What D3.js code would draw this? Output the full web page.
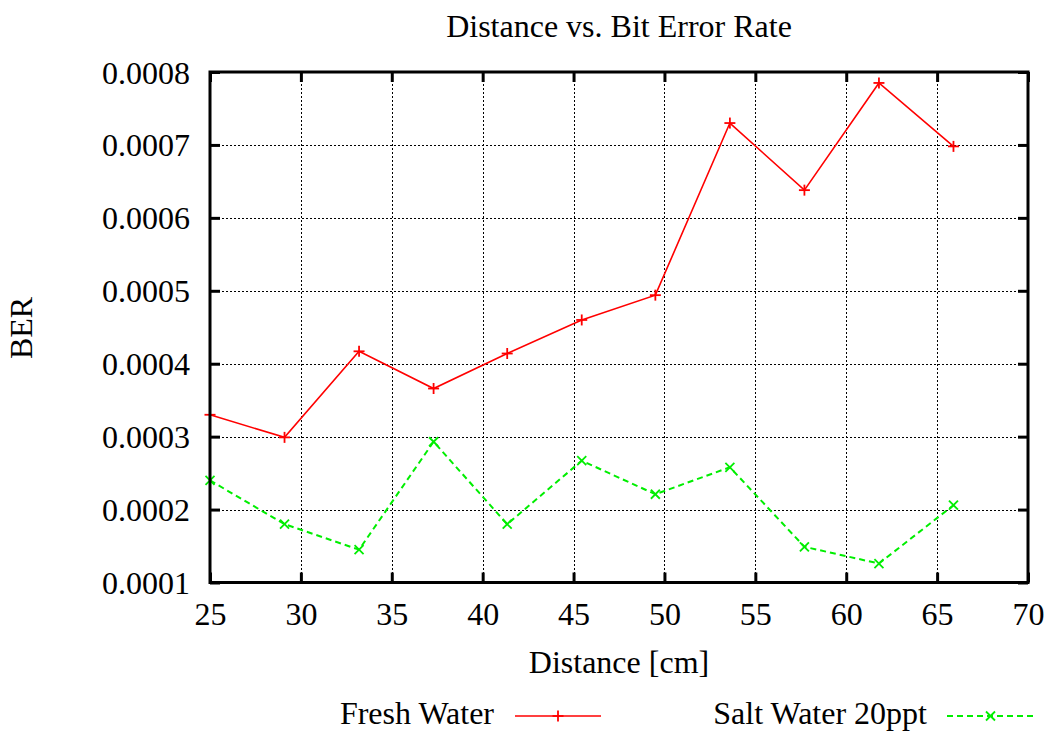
<!DOCTYPE html>
<html>
<head>
<meta charset="utf-8">
<script src="https://cdn.jsdelivr.net/npm/d3@7"></script>
<style>
  html, body { margin: 0; padding: 0; background: #fff; }
  svg text { font-family: "Liberation Serif", "DejaVu Serif", serif; fill: #000; }
</style>
</head>
<body>
<svg id="chart" width="1050" height="732"></svg>
<script>
// Measured distances (cm) and bit error rates
const distance = [25, 29.1, 33.2, 37.3, 41.35, 45.45, 49.5, 53.6, 57.7, 61.8, 65.9];
const freshWater = [0.00033, 0.000299, 0.000417, 0.000366, 0.000414, 0.00046, 0.000494, 0.00073, 0.000638, 0.000785, 0.000698];
const saltWater = [0.00024, 0.00018, 0.000145, 0.000293, 0.00018, 0.000267, 0.000221, 0.000258, 0.000149, 0.000126, 0.000206];
const xTicks = [25, 30, 35, 40, 45, 50, 55, 60, 65, 70];
const yTicks = [0.0001, 0.0002, 0.0003, 0.0004, 0.0005, 0.0006, 0.0007, 0.0008];
const seriesNames = ["Fresh Water", "Salt Water 20ppt"];

const FONT = "'Liberation Serif', 'DejaVu Serif', serif";
const FS = 32;

const svg = d3.select("#chart");
const plotLeft = 210, plotRight = 1028, plotTop = 72, plotBottom = 582.5;

const x = d3.scaleLinear().domain([25, 70]).range([plotLeft, plotRight]);
const y = d3.scaleLinear().domain([0.0001, 0.0008]).range([plotBottom, plotTop]);

// Dotted grid
const grid = svg.append("g").attr("stroke", "#000").attr("stroke-width", 1)
  .attr("stroke-dasharray", "1.5,2.5").attr("shape-rendering", "crispEdges");
xTicks.slice(1, -1).forEach(t => {
  grid.append("line").attr("x1", Math.round(x(t)) + 0.5).attr("x2", Math.round(x(t)) + 0.5)
    .attr("y1", plotTop).attr("y2", plotBottom);
});
yTicks.slice(1, -1).forEach(t => {
  grid.append("line").attr("y1", Math.round(y(t)) + 0.5).attr("y2", Math.round(y(t)) + 0.5)
    .attr("x1", plotLeft).attr("x2", plotRight);
});

// Series
const series = [
  { name: seriesNames[0], values: freshWater, color: "#ff0000", dash: null, width: 1.6, marker: "plus" },
  { name: seriesNames[1], values: saltWater, color: "#00ee00", dash: "6,4", width: 2, marker: "cross" }
];

function drawMarker(g, type, cx, cy, color) {
  const s = type === "plus" ? 5.5 : 4.5;
  const m = g.append("g").attr("stroke", color).attr("stroke-width", 1.8).attr("fill", "none");
  if (type === "plus") {
    m.append("line").attr("x1", cx - s).attr("x2", cx + s).attr("y1", cy).attr("y2", cy);
    m.append("line").attr("x1", cx).attr("x2", cx).attr("y1", cy - s).attr("y2", cy + s);
  } else {
    m.append("line").attr("x1", cx - s).attr("x2", cx + s).attr("y1", cy - s).attr("y2", cy + s);
    m.append("line").attr("x1", cx - s).attr("x2", cx + s).attr("y1", cy + s).attr("y2", cy - s);
  }
}

const line = d3.line().x(d => x(d[0])).y(d => y(d[1]));
series.forEach(s => {
  const pts = distance.map((d, i) => [d, s.values[i]]);
  const g = svg.append("g");
  g.append("path").datum(pts).attr("d", line).attr("fill", "none")
    .attr("stroke", s.color).attr("stroke-width", s.width)
    .attr("stroke-dasharray", s.dash);
  pts.forEach(p => drawMarker(g, s.marker, x(p[0]), y(p[1]), s.color));
});

// Axes with inward ticks on all four sides
const tickLen = 10;
const axisG = svg.append("g");
const xAxisB = d3.axisBottom(x).tickValues(xTicks).tickSize(-tickLen).tickPadding(0).tickFormat(d3.format("d"));
const xAxisT = d3.axisTop(x).tickValues(xTicks).tickSize(-tickLen).tickFormat("");
const yAxisL = d3.axisLeft(y).tickValues(yTicks).tickSize(-tickLen).tickFormat(d3.format(".4f"));
const yAxisR = d3.axisRight(y).tickValues(yTicks).tickSize(-tickLen).tickFormat("");

function styleAxis(g) {
  g.attr("font-family", FONT).attr("font-size", FS);
  g.select(".domain").remove();
  g.selectAll(".tick line").attr("stroke", "#000").attr("stroke-width", 3);
  g.selectAll(".tick text").attr("fill", "#000");
}
const gxb = axisG.append("g").attr("transform", `translate(0,${plotBottom})`).call(xAxisB).call(styleAxis);
gxb.selectAll(".tick text").attr("dy", null).attr("y", 42);
axisG.append("g").attr("transform", `translate(0,${plotTop})`).call(xAxisT).call(styleAxis);
const gyl = axisG.append("g").attr("transform", `translate(${plotLeft},0)`).call(yAxisL).call(styleAxis);
gyl.selectAll(".tick text").attr("x", -20).attr("dy", 11);
axisG.append("g").attr("transform", `translate(${plotRight},0)`).call(yAxisR).call(styleAxis);

// Frame
svg.append("rect").attr("x", plotLeft).attr("y", plotTop)
  .attr("width", plotRight - plotLeft).attr("height", plotBottom - plotTop)
  .attr("fill", "none").attr("stroke", "#000").attr("stroke-width", 3);

// Titles
const labels = svg.append("g").attr("font-family", FONT).attr("font-size", FS);
labels.append("text").attr("x", (plotLeft + plotRight) / 2).attr("y", 37).attr("text-anchor", "middle")
  .text("Distance vs. Bit Error Rate");
labels.append("text").attr("x", (plotLeft + plotRight) / 2).attr("y", 673).attr("text-anchor", "middle")
  .text("Distance [cm]");
labels.append("text").attr("transform", "translate(32,328) rotate(-90)").attr("text-anchor", "middle")
  .text("BER");

// Legend
const legend = svg.append("g").attr("font-family", FONT).attr("font-size", FS);
const legendItems = [
  { textEnd: 494, x1: 515, x2: 601 },
  { textEnd: 927, x1: 947, x2: 1034 }
];
series.forEach((s, i) => {
  const li = legendItems[i];
  legend.append("text").attr("x", li.textEnd).attr("y", 724).attr("text-anchor", "end")
    .text(s.name);
  legend.append("line").attr("x1", li.x1).attr("x2", li.x2).attr("y1", 716).attr("y2", 716)
    .attr("stroke", s.color).attr("stroke-width", s.width).attr("stroke-dasharray", s.dash);
  drawMarker(legend, s.marker, (li.x1 + li.x2) / 2, 716, s.color);
});
</script>
</body>
</html>
